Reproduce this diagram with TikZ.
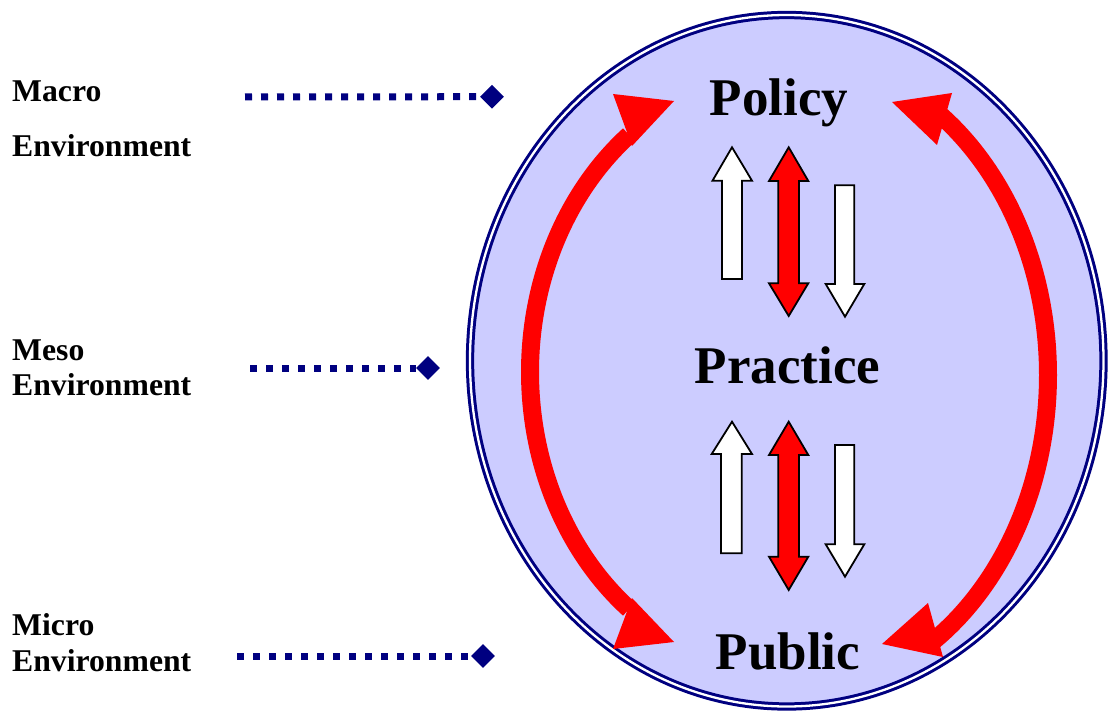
\documentclass[tikz,border=0pt]{standalone}
\usepackage{fontspec}
\setmainfont{Liberation Serif}
\usetikzlibrary{shapes.geometric}
\definecolor{navyc}{RGB}{0,0,128}
\definecolor{lav}{RGB}{204,204,255}
\begin{document}
\begin{tikzpicture}[x=1pt,y=-1pt,
  big/.style={font=\fontsize{53}{53}\selectfont\bfseries, inner sep=0pt, anchor=base},
  side/.style={font=\fontsize{31.7}{31.7}\selectfont\bfseries, inner sep=0pt, anchor=base west},
  dots/.style={navyc, line width=7pt, dash pattern=on 7pt off 9pt},
  dia/.style={diamond, fill=navyc, minimum size=24pt, inner sep=0pt},
  band/.style={red, line width=18pt},
  wblk/.style={draw=black, line width=1.8pt, fill=white, line join=miter},
  rblk/.style={draw=black, line width=1.8pt, fill=red, line join=miter},
]
\useasboundingbox (0,0) rectangle (1108,711);
% outer ellipse
\draw[navyc, line width=3pt, double=white, double distance=2.3pt, fill=lav]
  (786.75,360.75) ellipse [x radius=316.75pt, y radius=345.75pt];
% labels
\node[big] (policy) at (779,116) {Policy};
\node[big] (practice) at (787.5,383) {Practice};
\node[big] (public) at (788,669) {Public};
\node[side] (macroA) at (12,101.7) {Macro};
\node[side] (macroB) at (12,156.7) {Environment};
\node[side] (mesoA) at (12,360) {Meso};
\node[side] (mesoB) at (12,395.5) {Environment};
\node[side] (microA) at (12,635) {Micro};
\node[side] (microB) at (12,671) {Environment};
% dotted connectors
\node[dia] (dmacro) at (492,96.7) {};
\node[dia] (dmeso) at (428,368) {};
\node[dia] (dmicro) at (483,656) {};
\coordinate (smacro) at (245,97);
\coordinate (smeso) at (250,368);
\coordinate (smicro) at (237,656);
\draw[dots] (smacro) -- (dmacro.west);
\draw[dots] (smeso) -- (dmeso.west);
\draw[dots] (smicro) -- (dmicro.west);
% big red arcs between Policy and Public
\draw[band] plot[domain=127.8:232.2, samples=90, smooth] ({786+256*cos(\x)},{372-300*sin(\x)});
\fill[red] (613,94) -- (674,101) -- (632,146) -- cycle;
\fill[red] (632,598) -- (674,642) -- (613,649) -- cycle;
\draw[band] plot[domain=-56.5:55, samples=90, smooth] ({790+258*cos(\x)},{375-320*sin(\x)});
\fill[red] (952,93) -- (892,102) -- (937,145) -- cycle;
\fill[red] (928,603) -- (882,644) -- (943,657) -- cycle;
% small block arrows, top
\draw[wblk] (732,147.3) -- (752,180.7) -- (742,180.7) -- (742,279) -- (722,279) -- (722,180.7) -- (712.5,180.7) -- cycle;
\draw[rblk] (788.7,147.3) -- (808.3,181) -- (799,181) -- (799,283.3) -- (808.3,283.3) -- (788.7,316) -- (769,283.3) -- (778.3,283.3) -- (778.3,181) -- (769,181) -- cycle;
\draw[wblk] (835,185.3) -- (854.3,185.3) -- (854.3,284) -- (864.3,284) -- (845,316.7) -- (825.7,284) -- (835,284) -- cycle;
% small block arrows, bottom
\draw[wblk] (732,421.7) -- (752,454) -- (741.7,454) -- (741.7,553.3) -- (721,553.3) -- (721,454) -- (711.7,454) -- cycle;
\draw[rblk] (788.7,421.7) -- (808.3,455) -- (799,455) -- (799,556.7) -- (808.3,556.7) -- (788.7,590) -- (769,556.7) -- (778.3,556.7) -- (778.3,455) -- (769,455) -- cycle;
\draw[wblk] (835,445) -- (854.3,445) -- (854.3,544.3) -- (864.3,544.3) -- (845,576.7) -- (825.7,544.3) -- (835,544.3) -- cycle;
\end{tikzpicture}
\end{document}
